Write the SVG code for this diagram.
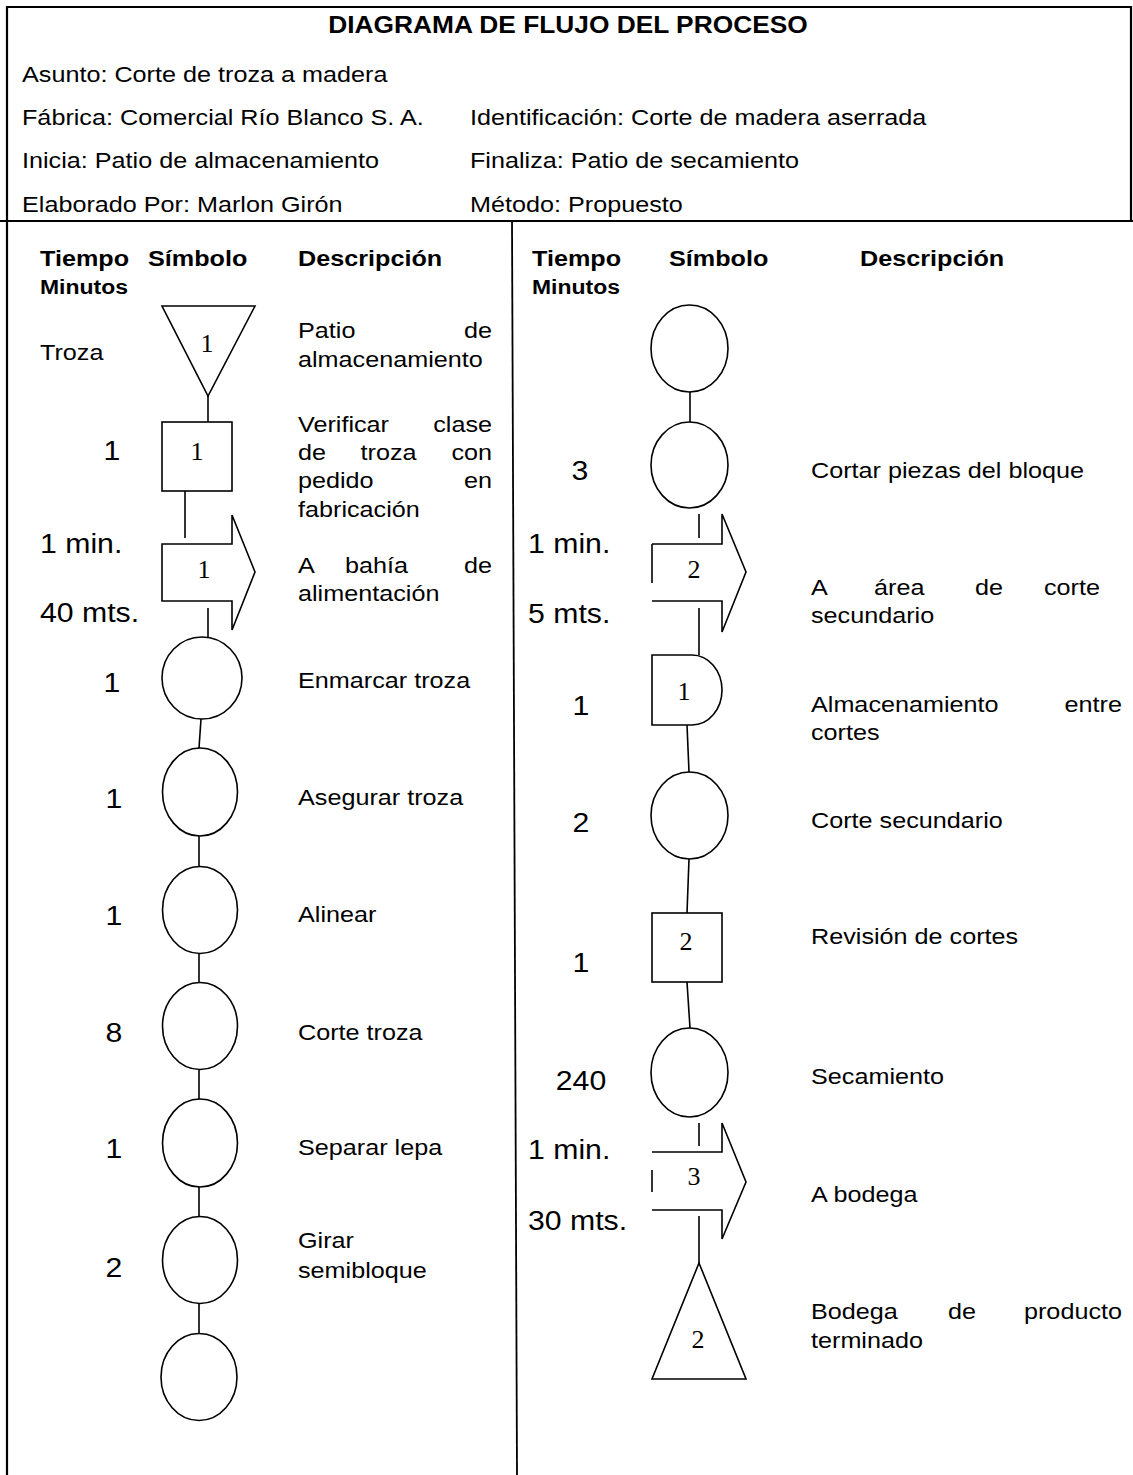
<svg xmlns="http://www.w3.org/2000/svg" width="1133" height="1475" viewBox="0 0 1133 1475">
<style>
.frame{fill:none;stroke:#000;stroke-width:2.2}
.sh{fill:#fff;stroke:#000;stroke-width:1.6}
.ln{fill:none;stroke:#000;stroke-width:1.6}
.t{font-family:"Liberation Sans",Arial,sans-serif;font-size:22.5px;fill:#000}
.ti{font-family:"Liberation Sans",Arial,sans-serif;font-size:23.5px;font-weight:bold;fill:#000}
.h{font-family:"Liberation Sans",Arial,sans-serif;font-size:22.5px;font-weight:bold;fill:#000}
.hm{font-family:"Liberation Sans",Arial,sans-serif;font-size:20.5px;font-weight:bold;fill:#000}
.n{font-family:"Liberation Sans",Arial,sans-serif;font-size:27px;fill:#000}
.nc{font-family:"Liberation Sans",Arial,sans-serif;font-size:27px;fill:#000;text-anchor:middle}
.e{text-anchor:end}
.m{text-anchor:middle}
.s{font-family:"Liberation Serif","Times New Roman",serif;font-size:26px;fill:#000;text-anchor:middle}
</style>
<rect width="1133" height="1475" fill="#fff"/>
<g id="frame">
<line class="frame" x1="6" y1="7" x2="1131" y2="7"/>
<line class="frame" x1="7" y1="6" x2="7" y2="1475"/>
<line class="frame" x1="1131" y1="6" x2="1131" y2="221"/>
<line class="frame" x1="0" y1="221" x2="1133" y2="221"/>
<line class="frame" x1="512" y1="221" x2="517" y2="1475" style="stroke-width:1.8"/>
</g>
<g id="connectors">
<line class="ln" x1="208" y1="396" x2="208" y2="422"/>
<line class="ln" x1="185" y1="491" x2="185" y2="538"/>
<line class="ln" x1="208" y1="608" x2="208" y2="638"/>
<line class="ln" x1="201" y1="719" x2="199" y2="748"/>
<line class="ln" x1="199" y1="836" x2="199" y2="866"/>
<line class="ln" x1="199" y1="953" x2="199" y2="982"/>
<line class="ln" x1="199" y1="1069" x2="199" y2="1099"/>
<line class="ln" x1="199" y1="1187" x2="199" y2="1216"/>
<line class="ln" x1="199" y1="1303" x2="199" y2="1333"/>
<line class="ln" x1="690" y1="392" x2="690" y2="422"/>
<line class="ln" x1="699" y1="514" x2="699" y2="538"/>
<line class="ln" x1="699" y1="608" x2="699" y2="655"/>
<line class="ln" x1="687" y1="725" x2="689" y2="772"/>
<line class="ln" x1="689" y1="859" x2="687" y2="913"/>
<line class="ln" x1="687" y1="982" x2="690" y2="1028"/>
<line class="ln" x1="699" y1="1123" x2="699" y2="1146"/>
<line class="ln" x1="699" y1="1216" x2="699" y2="1263"/>
</g>
<g id="n-storage1"><polygon class="sh" points="162,306 255,306 208,396"/></g>
<g id="n-inspect1"><rect class="sh" x="162" y="422" width="70" height="69"/></g>
<g id="n-transport1"><polygon class="sh" points="162,544 232,544 232,515 255,572 232,630 232,601 162,601"/></g>
<g id="n-op1"><ellipse class="sh" cx="202" cy="678" rx="40" ry="41"/></g>
<g id="n-op2"><ellipse class="sh" cx="200" cy="792" rx="37.5" ry="44"/></g>
<g id="n-op3"><ellipse class="sh" cx="200" cy="910" rx="37.5" ry="43.5"/></g>
<g id="n-op4"><ellipse class="sh" cx="200" cy="1026" rx="37.5" ry="43.5"/></g>
<g id="n-op5"><ellipse class="sh" cx="200" cy="1143" rx="37.5" ry="44"/></g>
<g id="n-op6"><ellipse class="sh" cx="200" cy="1260" rx="37.5" ry="43.5"/></g>
<g id="n-op7"><ellipse class="sh" cx="199" cy="1377" rx="38" ry="43.5"/></g>
<g id="n-op8"><ellipse class="sh" cx="689.5" cy="348.5" rx="38.5" ry="43.5"/></g>
<g id="n-op9"><ellipse class="sh" cx="689.5" cy="465" rx="38.5" ry="43"/></g>
<g id="n-transport2"><path class="sh" d="M652,544 H722 V514 L746,572 L722,632 V601 H652"/><line class="ln" x1="652" y1="544" x2="652" y2="583"/></g>
<g id="n-delay1"><path class="sh" d="M652,655 H692 A30,35 0 0 1 692,725 H652 Z"/></g>
<g id="n-op10"><ellipse class="sh" cx="689.5" cy="815.5" rx="38.5" ry="43.5"/></g>
<g id="n-inspect2"><rect class="sh" x="652" y="913" width="70" height="69"/></g>
<g id="n-op11"><ellipse class="sh" cx="689.5" cy="1072.5" rx="38.5" ry="44.5"/></g>
<g id="n-transport3"><path class="sh" d="M652,1152 H722 V1123 L746,1182 L722,1239 V1210 H652"/><line class="ln" x1="652" y1="1170" x2="652" y2="1192"/></g>
<g id="n-storage2"><polygon class="sh" points="699,1263 746,1379 652,1379"/></g>
<g id="symbol-numbers">
<text class="s" x="207" y="352">1</text>
<text class="s" x="197" y="460">1</text>
<text class="s" x="204" y="578">1</text>
<text class="s" x="694" y="578">2</text>
<text class="s" x="684" y="700">1</text>
<text class="s" x="686" y="950">2</text>
<text class="s" x="694" y="1185">3</text>
<text class="s" x="698" y="1348">2</text>
</g>
<g id="texts" transform="scale(1.12 1)">
<text class="ti m" x="507.14" y="33">DIAGRAMA DE FLUJO DEL PROCESO</text>
<text class="t" x="19.64" y="82">Asunto: Corte de troza a madera</text>
<text class="t" x="19.64" y="125">Fábrica: Comercial Río Blanco S. A.</text>
<text class="t" x="419.64" y="125">Identificación: Corte de madera aserrada</text>
<text class="t" x="19.64" y="168">Inicia: Patio de almacenamiento</text>
<text class="t" x="419.64" y="168">Finaliza: Patio de secamiento</text>
<text class="t" x="19.64" y="212">Elaborado Por: Marlon Girón</text>
<text class="t" x="419.64" y="212">Método: Propuesto</text>

<text class="h" x="35.71" y="266">Tiempo</text>
<text class="hm" x="35.71" y="294">Minutos</text>
<text class="h" x="132.14" y="266">Símbolo</text>
<text class="h" x="266.07" y="266">Descripción</text>
<text class="h" x="475" y="266">Tiempo</text>
<text class="hm" x="475" y="294">Minutos</text>
<text class="h" x="597.32" y="266">Símbolo</text>
<text class="h" x="767.86" y="266">Descripción</text>

<text class="t" x="35.71" y="360">Troza</text>
<text class="nc" x="100" y="460">1</text>
<text class="n" x="35.71" y="553">1 min.</text>
<text class="n" x="35.71" y="622">40 mts.</text>
<text class="nc" x="100" y="692">1</text>
<text class="nc" x="101.8" y="808">1</text>
<text class="nc" x="101.8" y="925">1</text>
<text class="nc" x="101.8" y="1042">8</text>
<text class="nc" x="101.8" y="1158">1</text>
<text class="nc" x="101.8" y="1277">2</text>

<text class="t" x="266.07" y="338">Patio</text>
<text class="t e" x="439.29" y="338">de</text>
<text class="t" x="266.07" y="367">almacenamiento</text>
<text class="t" x="266.07" y="432">Verificar</text>
<text class="t e" x="439.29" y="432">clase</text>
<text class="t" x="266.07" y="460">de</text>
<text class="t m" x="346.9" y="460">troza</text>
<text class="t e" x="439.29" y="460">con</text>
<text class="t" x="266.07" y="488">pedido</text>
<text class="t e" x="439.29" y="488">en</text>
<text class="t" x="266.07" y="517">fabricación</text>
<text class="t" x="266.07" y="573">A</text>
<text class="t" x="308.04" y="573">bahía</text>
<text class="t e" x="439.29" y="573">de</text>
<text class="t" x="266.07" y="601">alimentación</text>
<text class="t" x="266.07" y="688">Enmarcar troza</text>
<text class="t" x="266.07" y="805">Asegurar troza</text>
<text class="t" x="266.07" y="922">Alinear</text>
<text class="t" x="266.07" y="1040">Corte troza</text>
<text class="t" x="266.07" y="1155">Separar lepa</text>
<text class="t" x="266.07" y="1248">Girar</text>
<text class="t" x="266.07" y="1278">semibloque</text>

<text class="nc" x="517.86" y="480">3</text>
<text class="n" x="471.43" y="553">1 min.</text>
<text class="n" x="471.43" y="623">5 mts.</text>
<text class="nc" x="518.75" y="715">1</text>
<text class="nc" x="518.75" y="832">2</text>
<text class="nc" x="518.75" y="972">1</text>
<text class="nc" x="518.75" y="1090">240</text>
<text class="n" x="471.43" y="1159">1 min.</text>
<text class="n" x="471.43" y="1230">30 mts.</text>

<text class="t" x="724.11" y="478">Cortar piezas del bloque</text>
<text class="t" x="724.11" y="595">A</text>
<text class="t" x="780.36" y="595">área</text>
<text class="t" x="870.54" y="595">de</text>
<text class="t e" x="982.14" y="595">corte</text>
<text class="t" x="724.11" y="623">secundario</text>
<text class="t" x="724.11" y="712">Almacenamiento</text>
<text class="t e" x="1001.79" y="712">entre</text>
<text class="t" x="724.11" y="740">cortes</text>
<text class="t" x="724.11" y="828">Corte secundario</text>
<text class="t" x="724.11" y="944">Revisión de cortes</text>
<text class="t" x="724.11" y="1084">Secamiento</text>
<text class="t" x="724.11" y="1202">A bodega</text>
<text class="t" x="724.11" y="1319">Bodega</text>
<text class="t m" x="858.93" y="1319">de</text>
<text class="t e" x="1001.79" y="1319">producto</text>
<text class="t" x="724.11" y="1348">terminado</text>
</g>
</svg>
